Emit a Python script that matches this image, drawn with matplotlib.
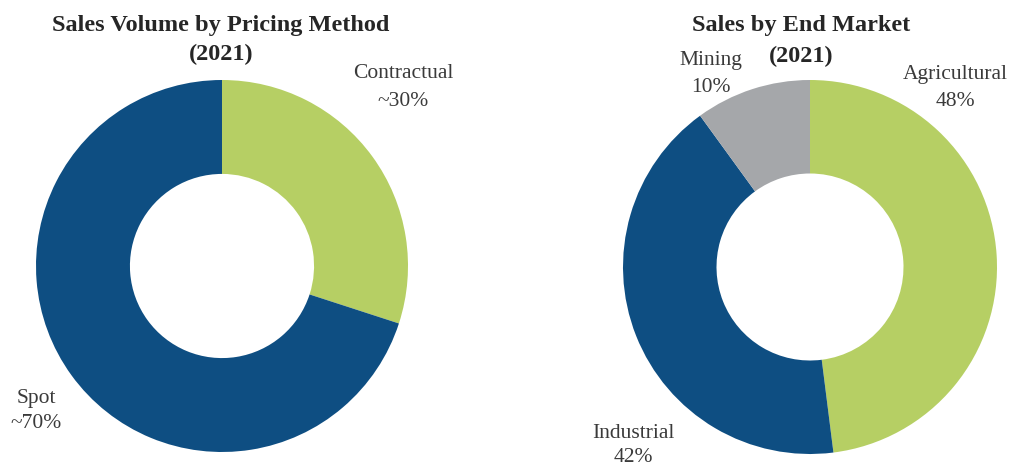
import matplotlib
matplotlib.use("Agg")
import matplotlib.pyplot as plt

# Data
pricing_labels = ["Contractual", "Spot"]
pricing_values = [30, 70]
pricing_texts = ["~30%", "~70%"]

market_labels = ["Agricultural", "Industrial", "Mining"]
market_values = [48, 42, 10]
market_texts = ["48%", "42%", "10%"]

navy = "#0E4E82"
green = "#B6CF64"
gray = "#A5A7AA"
pricing_colors = [green, navy]
market_colors = [green, navy, gray]

W, H = 1018, 466
fig = plt.figure(figsize=(W / 100, H / 100), dpi=100)
fig.patch.set_facecolor("white")

serif = ["Liberation Serif", "DejaVu Serif"]
txt_color = "#3a3a3a"


def add_axes(cx, cy, r):
    ax = fig.add_axes([(cx - r) / W, (H - cy - r) / H, 2 * r / W, 2 * r / H])
    return ax


def finish(ax):
    ax.set_xlim(-1, 1)
    ax.set_ylim(-1, 1)
    ax.set_aspect("equal")
    ax.axis("off")


def ftext(x, y, s, **kw):
    fig.text(x / W, 1 - y / H, s, ha="center", va="center", family=serif, **kw)


# Left donut
ax1 = add_axes(222, 266, 186)
ax1.pie(pricing_values, colors=pricing_colors, startangle=90, counterclock=False,
        radius=1.0, wedgeprops=dict(width=0.505, edgecolor="none"))
finish(ax1)

# Right donut
ax2 = add_axes(810, 267, 187)
ax2.pie(market_values, colors=market_colors, startangle=90, counterclock=False,
        radius=1.0, wedgeprops=dict(width=0.5, edgecolor="none"))
finish(ax2)

# Titles
tkw = dict(fontsize=17.5, fontweight="bold", color="#262626")
ftext(221, 25, "Sales Volume by Pricing Method", **tkw)
ftext(221, 54, "(2021)", **tkw)
ftext(801, 26, "Sales by End Market", **tkw)
ftext(801, 56, "(2021)", **tkw)

# Labels
lab_pos_left = {"Contractual": (403, 73, 101), "Spot": (36, 398, 424)}
for lab, t in zip(pricing_labels, pricing_texts):
    x, y1, y2 = lab_pos_left[lab]
    ftext(x, y1, lab, fontsize=15.5, color=txt_color)
    ftext(x, y2, t, fontsize=15.5, color=txt_color)

lab_pos_right = {"Agricultural": (955, 74, 101), "Industrial": (633, 434, 458), "Mining": (711, 61, 87)}
for lab, t in zip(market_labels, market_texts):
    x, y1, y2 = lab_pos_right[lab]
    ftext(x, y1, lab, fontsize=15.5, color=txt_color)
    ftext(x, y2, t, fontsize=15.5, color=txt_color)

fig.savefig("out.png", dpi=100, facecolor="white")
